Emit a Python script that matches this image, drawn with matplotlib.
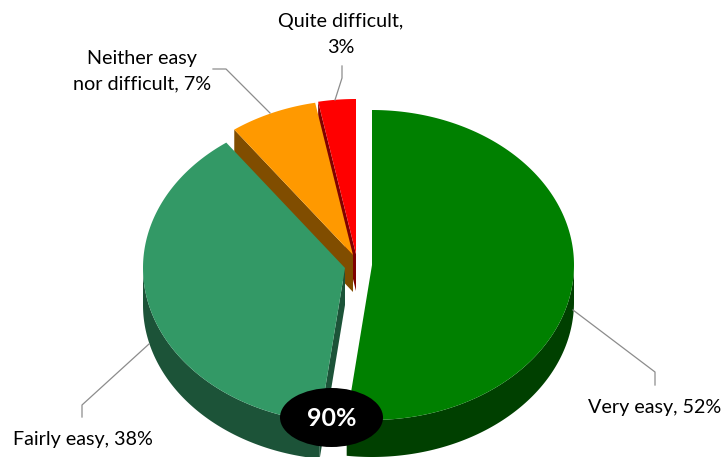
import numpy as np
import matplotlib
matplotlib.use("Agg")
import matplotlib.pyplot as plt
from matplotlib.patches import Polygon, Ellipse

categories = ["Very easy", "Fairly easy", "Neither easy\nnor difficult", "Quite difficult,\n"]
values = [52, 38, 7, 3]
callout_text = "90%"

top_colors = ["#008000", "#339966", "#FF9900", "#FF0000"]
side_colors = ["#004000", "#1C5338", "#804D00", "#800000"]
centers = [(372, 265), (345, 268), (353, 255), (356, 254)]
RX, RY, DEPTH = 202, 155, 37

plt.rcParams["font.family"] = ["Lato", "DejaVu Sans"]
fig = plt.figure(figsize=(7.25, 4.57), dpi=100)
ax = fig.add_axes([0, 0, 1, 1])
ax.set_xlim(0, 725)
ax.set_ylim(457, 0)
ax.axis("off")

total = sum(values)
edges = np.cumsum([0] + values) / total * 2 * np.pi


def pt(c, a, dz=0):
    return np.column_stack([c[0] + RX * np.sin(a), c[1] - RY * np.cos(a) + dz])


def top_poly(i):
    a = np.linspace(edges[i], edges[i + 1], 200)
    return np.vstack([[centers[i]], pt(centers[i], a)])


def rim_poly(i):
    lo = max(edges[i], np.pi / 2)
    hi = min(edges[i + 1], 3 * np.pi / 2)
    if lo >= hi:
        return None
    a = np.linspace(lo, hi, 200)
    return np.vstack([pt(centers[i], a), pt(centers[i], a[::-1], DEPTH)])


def cut_poly(i, a):
    c = np.array(centers[i], float)
    p = pt(centers[i], np.array([a]))[0]
    d = np.array([0, DEPTH])
    return np.array([c, p, p + d, c + d])


def add(poly, color, z):
    ax.add_patch(Polygon(poly, closed=True, fc=color, ec="none", zorder=z))


# back to front: red, orange, sea green, green
add(cut_poly(3, edges[3]), side_colors[3], 1)
add(cut_poly(2, edges[2]), side_colors[2], 2)
add(top_poly(3), top_colors[3], 3)
add(top_poly(2), top_colors[2], 4)
add(cut_poly(1, edges[1]), side_colors[1], 5)
add(rim_poly(1), side_colors[1], 6)
add(top_poly(1), top_colors[1], 7)
add(rim_poly(0), side_colors[0], 8)
add(top_poly(0), top_colors[0], 9)

leaders = [
    [(573, 310), (655, 372), (655, 385)],
    [(149, 344), (82, 405), (82, 417)],
    [(270, 113), (226, 69), (213, 69)],
    [(335, 100), (342, 78), (342, 66)],
]
for line in leaders:
    xs, ys = zip(*line)
    ax.plot(xs, ys, color="#8C8C8C", lw=0.9, zorder=10)

labels = [
    f"{categories[0]}, {values[0]}%",
    f"{categories[1]}, {values[1]}%",
    f"{categories[2]}, {values[2]}%",
    f"{categories[3]}{values[3]}%",
]
label_pos = [(655, 407.5), (83, 439.5), (142, 71.5), (341, 34.5)]
for s, (x, y) in zip(labels, label_pos):
    ax.text(x, y, s, ha="center", va="center", fontsize=14.2, color="black",
            linespacing=1.62, zorder=12)

ax.add_patch(Ellipse((331.5, 417.5), 103, 59, fc="black", ec="none", zorder=13))
ax.text(331.5, 418.5, callout_text, ha="center", va="center", fontsize=18,
        fontweight="bold", color="white", zorder=14)

fig.savefig("out.png", dpi=100)
